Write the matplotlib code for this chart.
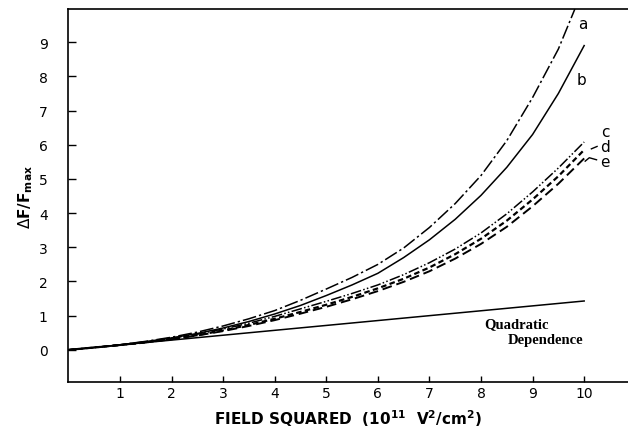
import matplotlib
matplotlib.use("Agg")
import matplotlib.pyplot as plt

# field squared (1e11 V^2/cm^2) sample points
field_sq = [0, 0.5, 1, 1.5, 2, 2.5, 3, 3.5, 4, 4.5, 5, 5.5, 6, 6.5, 7, 7.5, 8, 8.5, 9, 9.5, 10]
field_sq_a = [0, 0.5, 1, 1.5, 2, 2.5, 3, 3.5, 4, 4.5, 5, 5.5, 6, 6.5, 7, 7.5, 8, 8.5, 9, 9.5, 9.82]

# relative fluorescence change for each curve
curve_a = [0, 0.07, 0.15, 0.25, 0.37, 0.52, 0.70, 0.91, 1.15, 1.45, 1.78, 2.12, 2.50,
           2.98, 3.58, 4.28, 5.10, 6.12, 7.38, 8.80, 9.97]
curve_b = [0, 0.07, 0.15, 0.24, 0.35, 0.48, 0.64, 0.83, 1.05, 1.30, 1.59, 1.90, 2.24,
           2.70, 3.22, 3.82, 4.52, 5.34, 6.30, 7.50, 8.90]
curve_c = [0, 0.07, 0.14, 0.23, 0.34, 0.46, 0.61, 0.78, 0.98, 1.20, 1.42, 1.65, 1.90,
           2.20, 2.55, 2.95, 3.42, 3.98, 4.62, 5.32, 6.08]
curve_d = [0, 0.07, 0.14, 0.22, 0.32, 0.43, 0.57, 0.73, 0.91, 1.11, 1.32, 1.55, 1.80,
           2.08, 2.41, 2.80, 3.25, 3.78, 4.40, 5.08, 5.85]
curve_e = [0, 0.07, 0.14, 0.22, 0.31, 0.42, 0.55, 0.70, 0.87, 1.06, 1.26, 1.48, 1.72,
           1.99, 2.30, 2.67, 3.10, 3.60, 4.20, 4.86, 5.60]

quad_x = [0, 10]
quad_y = [0, 1.43]

x_ticks = [1, 2, 3, 4, 5, 6, 7, 8, 9, 10]
y_ticks = [0, 1, 2, 3, 4, 5, 6, 7, 8, 9]

fig = plt.figure(figsize=(6.28, 4.35), dpi=100)
ax = fig.add_axes([0.109, 0.1195, 0.891, 0.8575])

lw = 1.1
ax.plot(field_sq_a, curve_a, color="black", lw=lw, ls=(0, (9, 2, 1.5, 2)))
ax.plot(field_sq, curve_b, color="black", lw=lw, ls="-")
ax.plot(field_sq, curve_c, color="black", lw=lw, ls=(0, (7, 1.5, 1, 1.5, 1, 1.5)))
ax.plot(field_sq, curve_d, color="black", lw=1.6, ls=(0, (2.5, 1.5)))
ax.plot(field_sq, curve_e, color="black", lw=1.4, ls=(0, (5, 2.5)))
ax.plot(quad_x, quad_y, color="black", lw=lw, ls="-")

ax.set_xlim(0, 10.85)
ax.set_ylim(-0.94, 9.97)

ax.spines["right"].set_visible(False)
for side in ("left", "bottom", "top"):
    ax.spines[side].set_linewidth(1.2)

ax.set_xticks(x_ticks)
ax.set_yticks(y_ticks)
ax.tick_params(axis="x", direction="in", length=4, width=1, pad=3, labelsize=10)
ax.tick_params(axis="y", direction="in", length=6, width=1, pad=15, labelsize=10)

# curve labels
lab = dict(fontsize=11, color="black", va="center", ha="left")
ax.text(9.88, 9.55, "a", **lab)
ax.text(9.86, 7.90, "b", **lab)
ax.text(10.32, 6.40, "c", **lab)
ax.text(10.30, 5.95, "d", **lab)
ax.text(10.30, 5.50, "e", **lab)
ax.plot([10.14, 10.25], [5.88, 5.95], color="black", lw=1)
ax.plot([10.02, 10.10, 10.24], [5.52, 5.62, 5.56], color="black", lw=1)

ax.text(8.07, 0.76, "Quadratic", family="Liberation Serif", fontsize=10.5,
        fontweight="bold", va="center", ha="left")
ax.text(8.52, 0.30, "Dependence", family="Liberation Serif", fontsize=10.5,
        fontweight="bold", va="center", ha="left")

ax.set_ylabel(r"$\Delta$F/F$_{\mathbf{max}}$", fontsize=11, fontweight="bold", labelpad=3)
ax.set_xlabel(r"FIELD SQUARED  (10$^{\mathbf{11}}$  V$^{\mathbf{2}}$/cm$^{\mathbf{2}}$)",
              fontsize=11, fontweight="bold", labelpad=5)

fig.savefig("out.png", dpi=100)
